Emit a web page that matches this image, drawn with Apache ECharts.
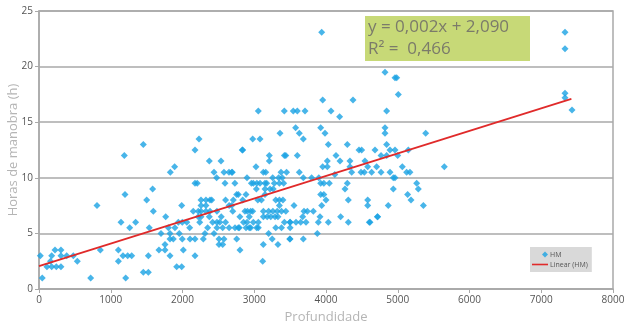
<!DOCTYPE html>
<html>
<head>
<meta charset="utf-8">
<script src="https://cdn.jsdelivr.net/npm/echarts@6/dist/echarts.min.js"></script>
<style>
  html, body { margin: 0; padding: 0; background: #fff; }
  #chart { width: 625px; height: 324px; }
</style>
</head>
<body>
<div id="chart"></div>
<script>
// pontos: [profundidade, horas]
const hmPoints = [
  [18, 3], [45, 1], [111, 2], [177, 2], [241, 2], [306, 2], [160, 2.5], [177, 3], [306, 3], [386, 3],
  [478, 3], [223, 3.5], [306, 3.5], [534, 2.5], [720, 1], [808, 7.5], [855, 3.5],
  [1106, 3.5], [1106, 2.5], [1143, 6], [1189, 12], [1199, 8.5], [1208, 1], [1171, 3], [1236, 3], [1292, 3],
  [1264, 5.5], [1347, 6], [1454, 13], [1454, 1.5], [1524, 1.5], [1524, 3], [1501, 8], [1537, 5.5], [1584, 9],
  [1593, 7], [1672, 3.5], [1700, 5], [1756, 3.5], [1756, 4], [1766, 6.5], [1803, 5.5], [1826, 3], [1826, 4.5],
  [1826, 5], [1830, 10.5], [1890, 11], [1872, 4.5], [1895, 5.5], [1942, 6], [1955, 5], [1919, 2], [1989, 2],
  [1989, 7.5], [1997, 6], [1997, 4.5], [2011, 3.5],
  [2174, 12.5], [2230, 13.5], [2374, 11.5], [2537, 11.5], [2439, 10.5], [2578, 10.5], [2648, 10.5], [2694, 10.5],
  [2476, 10], [2592, 9.5], [2174, 9.5], [2206, 9.5], [2833, 12.5], [2686, 10.5], [2730, 9.5],
  [2105, 4.5], [2174, 4.5], [2290, 4.5], [2174, 3], [2313, 5], [2439, 5], [2509, 4.5], [2578, 4.5], [2509, 4], [2560, 4],
  [2150, 7], [2220, 6.5], [2220, 7], [2258, 8], [2327, 8], [2383, 8], [2407, 8], [2258, 7.5], [2327, 7.5], [2258, 7],
  [2327, 7], [2383, 7], [2480, 7], [2258, 6.5], [2374, 6.5], [2540, 6.5], [2240, 6], [2420, 6], [2480, 6], [2520, 6],
  [2686, 7.5], [2600, 6], [2650, 5.5], [2560, 5.5], [2480, 5.5], [2350, 5.5], [2100, 5.5], [2060, 6],
  [2708, 8], [2778, 8.5], [2732, 5.5], [2778, 5.5], [2755, 4.5], [2801, 3.5], [2904, 7], [2930, 6.5], [2950, 7],
  [2987, 6], [2930, 5.5], [2792, 5.5], [2885, 5.5], [2950, 5.5], [2755, 8.5], [2839, 8], [2885, 8.5], [2870, 7],
  [2978, 7], [2839, 12.5], [2960, 9.5], [2899, 10], [2987, 9.5], [2978, 13.5], [2600, 8], [2650, 7.5], [2700, 7],
  [2800, 6.5], [2850, 6], [2900, 6],
  [3057, 16], [3419, 16], [3544, 16], [3080, 13.5], [3359, 14], [3210, 12], [3210, 11.5], [3420, 12], [3440, 12],
  [3024, 11], [3126, 10.5], [3160, 10.5], [3257, 10], [3373, 10.5], [3037, 9.5], [3080, 9.5], [3150, 9.5],
  [3173, 9.5], [3150, 9], [3220, 9], [3265, 9], [3280, 9.5], [3350, 9.5], [3410, 9.5], [3340, 10], [3390, 10],
  [3450, 10.5], [3034, 5.5], [3057, 5.5], [3057, 6], [3127, 6.5], [3127, 7], [3200, 7], [3260, 7], [3320, 7],
  [3380, 7], [3440, 7], [3350, 7.5], [3350, 8], [3300, 8], [3400, 8], [3100, 8], [3150, 8.5], [3180, 6.5],
  [3230, 6.5], [3290, 6.5], [3330, 6.5], [3300, 5.5], [3380, 5.5], [3500, 5.5], [3420, 6], [3500, 6], [3200, 5],
  [3250, 4.5], [3126, 4], [3330, 4], [3496, 4.5], [3118, 2.5], [3050, 8], [3030, 9],
  [3577, 14.5], [3628, 14], [3684, 13.5], [3600, 16], [3707, 16], [3940, 23.1], [3954, 17], [3926, 14.5],
  [3986, 14], [4032, 13], [3628, 10.5], [3684, 10], [3800, 10], [3926, 9.5], [3970, 9.5], [3926, 8.5],
  [3970, 8.5], [4000, 8], [3554, 7.5], [3940, 7.5], [3693, 7], [3740, 7], [3823, 7], [3675, 6.5], [3916, 6.5],
  [3498, 6], [3582, 6], [3647, 6], [3721, 6], [3893, 6], [3879, 5], [3684, 4.5], [3498, 4.5], [3954, 11],
  [4018, 11], [4018, 11.5], [3600, 12], [3900, 10],
  [4070, 16], [4190, 15.5], [4139, 12], [4195, 11.5], [4046, 9.5], [4032, 6], [4297, 13], [4297, 9.5], [4265, 9],
  [4311, 8], [4311, 6], [4204, 6.5], [4376, 17], [4822, 19.5], [4962, 19], [4985, 19], [5008, 17.5], [4845, 16],
  [4822, 14.5], [4822, 14], [4845, 13], [4460, 12.5], [4497, 12.5], [4683, 12.5], [4892, 12.5], [4962, 12.5],
  [4767, 12], [4845, 12], [4334, 11.5], [4543, 11.5], [4581, 11], [4706, 11], [4334, 11], [4358, 10.5],
  [4488, 10.5], [4534, 10.5], [4636, 10.5], [4767, 10.5], [4892, 10.5], [4938, 10], [4581, 8], [4581, 7.5],
  [4868, 7.5], [4938, 9], [4720, 6.5], [4613, 6], [4123, 10.3], [4604, 6], [4716, 6.5],
  [4999, 12], [5147, 12.5], [5389, 14], [5064, 11], [5124, 10.5], [5170, 10.5], [5649, 11], [4962, 10],
  [5264, 9.5], [5287, 9], [5138, 8.5], [5185, 8], [5357, 7.5],
  [7331, 23.1], [7331, 21.6], [7331, 17.6], [7331, 17.2], [7429, 16.1]
]

// linha de tendência (extremos)
const trendLine = [[0, 2.05], [7420, 17.1]]

const xTicks = [0, 8000, 1000]   // min, max, intervalo
const yTicks = [0, 25, 5]

const chart = echarts.init(document.getElementById('chart'))

const axisGray = '#a9a9a9'
const labelColor = '#555'
const nameColor = '#b5b5b5'

const option = {
  animation: false,
  textStyle: { fontFamily: 'Open Sans' },
  grid: {
    left: 39,
    right: 12,
    top: 11,
    bottom: 35,
    outerBoundsMode: 'none',
    containLabel: false,
    show: true,
    borderColor: axisGray,
    borderWidth: 1.5
  },
  legend: {
    orient: 'vertical',
    left: 530,
    top: 247,
    width: 68,
    backgroundColor: '#d9d9d9',
    padding: [4, 4, 4, 2],
    itemGap: 3,
    itemWidth: 16,
    itemHeight: 6,
    textStyle: { fontSize: 7, color: '#555', padding: [0, 0, 0, -3] },
    data: [
      // losango pequeno à direita, dentro de uma caixa 16x6
      { name: 'HM', icon: 'path://M0,0 L0,0 M16,6 L16,6 M13,0 L16,3 L13,6 L10,3 Z', itemStyle: { color: '#1aa3e3' } },
      { name: 'Linear (HM)', icon: 'path://M0,0 L20,0 L20,2 L0,2 Z', itemStyle: { color: '#e02a2a' } }
    ]
  },
  xAxis: {
    type: 'value',
    min: xTicks[0],
    max: xTicks[1],
    interval: xTicks[2],
    name: 'Profundidade',
    nameLocation: 'middle',
    nameGap: 22,
    nameMoveOverlap: false,
    nameTextStyle: { color: nameColor, fontSize: 13 },
    axisLine: { lineStyle: { color: axisGray, width: 1.5 } },
    axisTick: { show: true, length: 4, lineStyle: { color: axisGray } },
    axisLabel: { color: labelColor, fontSize: 10, margin: 6, formatter: v => String(v) },
    splitLine: { show: false }
  },
  yAxis: {
    type: 'value',
    min: yTicks[0],
    max: yTicks[1],
    interval: yTicks[2],
    name: 'Horas de manobra (h)',
    nameLocation: 'middle',
    nameGap: 19,
    nameMoveOverlap: false,
    nameTextStyle: { color: nameColor, fontSize: 13 },
    axisLine: { show: true, lineStyle: { color: axisGray, width: 1.5 } },
    axisTick: { show: true, length: 4, lineStyle: { color: axisGray } },
    axisLabel: { color: labelColor, fontSize: 10, margin: 6 },
    splitLine: { lineStyle: { color: axisGray, width: 1.5 } }
  },
  graphic: [
    {
      type: 'rect',
      left: 365,
      top: 16,
      shape: { width: 165, height: 45 },
      style: { fill: '#c7d977' },
      z: 10
    },
    {
      type: 'text',
      left: 368,
      top: 16,
      style: {
        text: 'y = 0,002x + 2,090\nR² =  0,466',
        fill: '#7b7b6a',
        font: '17px "Open Sans"',
        lineHeight: 22
      },
      z: 11
    }
  ],
  series: [
    {
      name: 'HM',
      type: 'scatter',
      symbol: 'diamond',
      symbolSize: 7,
      itemStyle: { color: '#1aa3e3' },
      data: hmPoints,
      z: 3
    },
    {
      name: 'Linear (HM)',
      type: 'line',
      symbol: 'none',
      lineStyle: { color: '#e02a2a', width: 1.8 },
      data: trendLine,
      z: 4
    }
  ]
}

chart.setOption(option)
</script>
</body>
</html>
